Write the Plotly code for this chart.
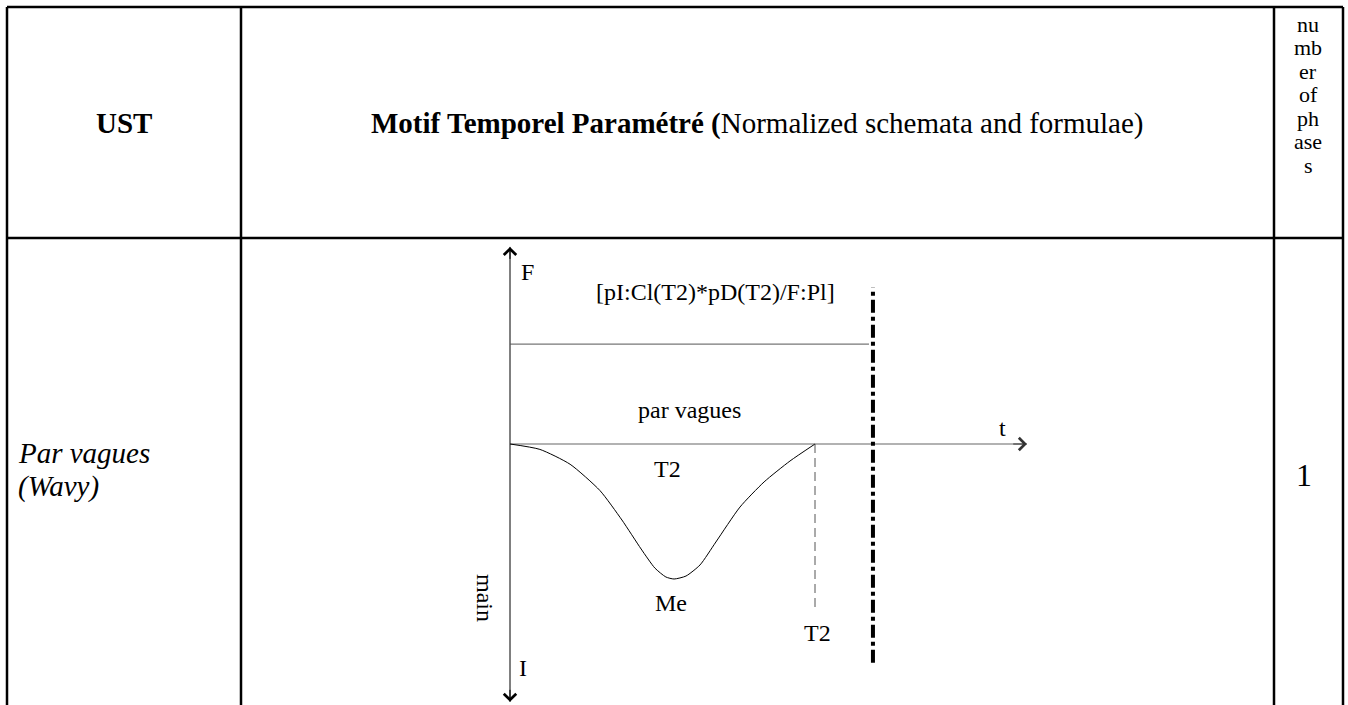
"""
Table row with the 'Par vagues' temporal motif schema
"""

import plotly.graph_objects as go

W, H = 1348, 705
FONT = 'Liberation Serif'

# ---- table content ----
header_ust = '<b>UST</b>'
header_motif = '<b>Motif Temporel Paramétré (</b>Normalized schemata and formulae)'
header_phases = ['nu', 'mb', 'er', 'of', 'ph', 'ase', 's']
row_ust = ['<i>Par vagues</i>', '<i>(Wavy)</i>']
row_phases = '1'

# ---- schema data: time in units of T2, intensity in units of Me ----
wave_t = [0, 0.098, 0.197, 0.295, 0.367, 0.430, 0.475, 0.511, 0.538,
          0.577, 0.623, 0.675, 0.754, 0.833, 0.918, 1.0]
wave_v = [0, -0.04, -0.15, -0.345, -0.563, -0.778, -0.919, -0.985, -1.0,
          -0.978, -0.896, -0.726, -0.467, -0.281, -0.126, 0]

T2 = 1.0
horizon_t = 1.19
f_level = 0.74
f_line_end = 1.177
t_axis_end = 1.695
v_axis_top = 1.46
v_axis_bottom = -1.91
horizon_top = 1.16
horizon_bottom = -1.62
t2_drop = -1.23

schema_labels = [
    ('F', 0.056, 1.274),
    ('[pI:Cl(T2)*pD(T2)/F:Pl]', 0.675, 1.126),
    ('par vagues', 0.59, 0.252),
    ('T2', 0.518, -0.185),
    ('Me', 0.528, -1.178),
    ('T2', 1.007, -1.40),
    ('I', 0.043, -1.659),
    ('t', 1.616, 0.119),
]

# page geometry (pixels)
col_edges = [7, 241, 1274, 1343]
row_edges = [7, 238]
ORIGIN_X, ORIGIN_Y = 510, 444
PX_T, PX_V = 305, 135
BORDER = 2.5


def px(x):
    return x / W


def py(y):
    return 1 - y / H


def label(text, x, y, size, **kw):
    d = dict(x=px(x), y=py(y), xref='paper', yref='paper', text=text, showarrow=False,
             xanchor='center', yanchor='middle',
             font=dict(family=FONT, size=size, color='black'))
    d.update(kw)
    return d


fig = go.Figure()

# axes of the schema
fig.add_trace(go.Scatter(x=[0, 0], y=[v_axis_bottom, v_axis_top], mode='lines',
                         line=dict(color='black', width=1)))
fig.add_trace(go.Scatter(x=[0, t_axis_end], y=[0, 0], mode='lines',
                         line=dict(color='#666', width=1.2)))
fig.add_trace(go.Scatter(x=[0, f_line_end], y=[f_level, f_level], mode='lines',
                         line=dict(color='#555', width=1)))
# the wave
fig.add_trace(go.Scatter(x=wave_t, y=wave_v, mode='lines',
                         line=dict(color='black', width=1, shape='spline', smoothing=0.6)))
# T2 marker and horizon
fig.add_trace(go.Scatter(x=[T2, T2], y=[0, t2_drop], mode='lines',
                         line=dict(color='#555', width=1, dash='9px,5px')))
fig.add_trace(go.Scatter(x=[horizon_t, horizon_t], y=[horizon_bottom, horizon_top], mode='lines',
                         line=dict(color='black', width=4, dash='13px,4px,4px,4px')))

annotations = []

# arrow heads
for tip, tail, col in [((0, v_axis_top), (0, v_axis_top - 0.1), 'black'),
                       ((0, v_axis_bottom), (0, v_axis_bottom + 0.1), 'black'),
                       ((t_axis_end, 0), (t_axis_end - 0.05, 0), '#333')]:
    annotations.append(dict(
        x=tip[0], y=tip[1], ax=tail[0], ay=tail[1],
        xref='x', yref='y', axref='x', ayref='y', text='',
        showarrow=True, arrowhead=4, arrowsize=2.4, arrowwidth=1, arrowcolor=col))

for txt, tx, ty in schema_labels:
    annotations.append(dict(x=tx, y=ty, xref='x', yref='y', text=txt, showarrow=False,
                            xanchor='center', yanchor='middle',
                            font=dict(family=FONT, size=24, color='black')))

annotations.append(dict(x=-0.082, y=-1.141, xref='x', yref='y', text='main', textangle=90,
                        showarrow=False, xanchor='center', yanchor='middle',
                        font=dict(family=FONT, size=24, color='black')))

# table text
annotations.append(label(header_ust, 124, 123, 29))
annotations.append(label(header_motif, 757, 123, 29))
for i, part in enumerate(header_phases):
    annotations.append(label(part, 1308, 24 + i * 23.5, 22))
for i, part in enumerate(row_ust):
    annotations.append(label(part, 16, 453 + i * 33, 29, xanchor='left'))
annotations.append(label(row_phases, 1304, 475, 32))

# table grid (the table runs on below the frame)
shapes = []
for xe in col_edges:
    shapes.append(dict(type='line', xref='paper', yref='paper',
                       x0=px(xe), x1=px(xe), y0=py(row_edges[0]), y1=0,
                       line=dict(color='black', width=BORDER)))
for ye in row_edges:
    shapes.append(dict(type='line', xref='paper', yref='paper',
                       x0=px(col_edges[0]), x1=px(col_edges[-1]), y0=py(ye), y1=py(ye),
                       line=dict(color='black', width=BORDER)))

fig.update_layout(
    width=W, height=H,
    margin=dict(l=0, r=0, t=0, b=0),
    paper_bgcolor='white', plot_bgcolor='white',
    showlegend=False,
    hovermode=False,
    annotations=annotations,
    shapes=shapes,
)
fig.update_xaxes(visible=False, range=[(0 - ORIGIN_X) / PX_T, (W - ORIGIN_X) / PX_T])
fig.update_yaxes(visible=False, range=[(ORIGIN_Y - H) / PX_V, ORIGIN_Y / PX_V])

# static page, no modebar, and no default body margin so the figure fills the window
fig.write_html('out.html', config={'staticPlot': True},
               post_script="document.body.style.margin = '0';")
